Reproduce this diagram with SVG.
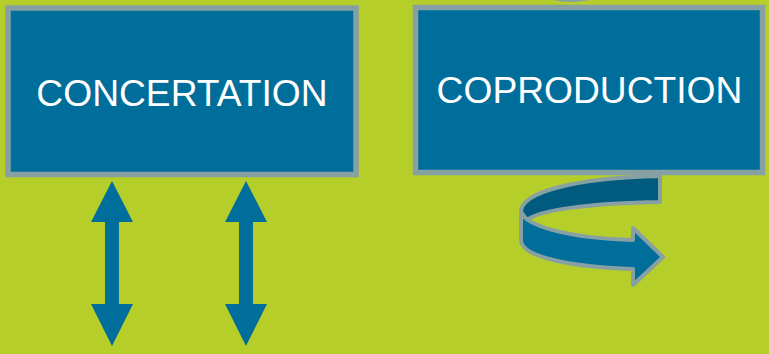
<svg xmlns="http://www.w3.org/2000/svg" width="769" height="354" viewBox="0 0 769 354">
  <style>
    .box { fill: #006e9b; stroke: #87a0a4; stroke-width: 5.5; }
    .lbl { font-family: "Liberation Sans", Arial, sans-serif; font-size: 37.2px; fill: #ffffff; text-anchor: middle; }
    .dbl { fill: #006e9b; }
    .rib { stroke: #87a0a4; stroke-width: 4; stroke-linejoin: round; }
  </style>
  <rect width="769" height="354" fill="#b5ce29"/>
  <path d="M553,0 Q571,4 590,0 Z" fill="#87a0a4"/>
  <g id="node-concertation">
    <rect class="box" x="8" y="8" width="348" height="166.5"/>
    <text class="lbl" x="182" y="106">CONCERTATION</text>
  </g>
  <g id="node-coproduction">
    <rect class="box" x="415.5" y="7.5" width="347" height="165"/>
    <text class="lbl" x="589.5" y="103">COPRODUCTION</text>
  </g>
  <g id="connectors">
    <polygon class="dbl" points="112,181 133,222 119,222 119,304 133,304 112,346 91,304 105,304 105,222 91,222"/>
    <polygon class="dbl" points="246,181 267,222 253,222 253,304 267,304 246,346 225,304 239,304 239,222 225,222"/>
    <path class="rib" fill="#005b7e" d="M660,176 L660,202 C592,203 538,210 527,220 L521,212 C521,192 575,178 660,176 Z"/>
    <path class="rib" fill="#006e9b" d="M521,212 C525,225 565,238 633,240 L633,228 L663,257 L633,285 L633,269 C570,267 523,257 521,241 Z"/>
  </g>
</svg>
